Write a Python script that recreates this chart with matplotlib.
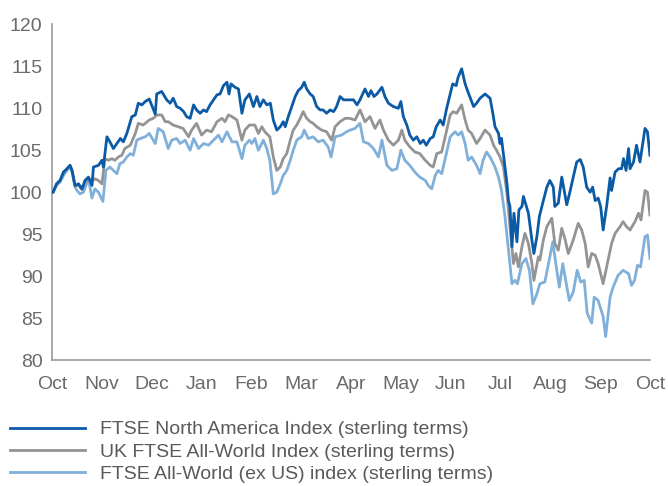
import matplotlib
matplotlib.use("Agg")
import matplotlib.pyplot as plt

# x positions are months since start (0 = Oct, 12 = Oct next year)
month_labels = ["Oct", "Nov", "Dec", "Jan", "Feb", "Mar", "Apr", "May", "Jun", "Jul", "Aug", "Sep", "Oct"]

na_x = [0, 0.02, 0.09, 0.16, 0.23, 0.30, 0.36, 0.40, 0.46, 0.53, 0.60, 0.66, 0.73, 0.80, 0.83, 0.93,
        1.00, 1.03, 1.10, 1.16, 1.23, 1.30, 1.37, 1.43, 1.50, 1.60, 1.67, 1.73, 1.80, 1.87, 1.95,
        2.07, 2.10, 2.20, 2.30, 2.37, 2.43, 2.50, 2.57, 2.64, 2.70, 2.77, 2.84, 2.90, 2.97,
        3.04, 3.10, 3.17, 3.24, 3.31, 3.37, 3.44, 3.51, 3.55, 3.59, 3.67, 3.74, 3.81, 3.87, 3.96,
        4.04, 4.11, 4.17, 4.24, 4.31, 4.38, 4.44, 4.51, 4.58, 4.64, 4.68, 4.74, 4.81, 4.88, 4.94,
        5.01, 5.06, 5.11, 5.18, 5.24, 5.31, 5.38, 5.44, 5.51, 5.58, 5.65, 5.71, 5.78, 5.85, 5.97,
        6.05, 6.12, 6.18, 6.28, 6.35, 6.40, 6.46, 6.52, 6.62, 6.68, 6.75, 6.85, 6.95,
        7.00, 7.05, 7.12, 7.18, 7.25, 7.32, 7.39, 7.45, 7.51, 7.59, 7.65, 7.71, 7.79, 7.85, 7.92, 7.99,
        8.04, 8.11, 8.15, 8.22, 8.29, 8.35, 8.46, 8.52, 8.59, 8.69, 8.79, 8.84, 8.89, 8.96, 8.99,
        9.02, 9.07, 9.13, 9.16, 9.19, 9.23, 9.27, 9.33, 9.37, 9.43, 9.46, 9.51, 9.56, 9.63, 9.67, 9.73, 9.78,
        9.86, 9.93, 9.99, 10.06, 10.09, 10.16, 10.23, 10.30, 10.33, 10.40, 10.46, 10.53, 10.60, 10.66,
        10.73, 10.80, 10.85, 10.90, 10.96, 11.01, 11.06, 11.13, 11.20, 11.23, 11.30, 11.37, 11.43,
        11.47, 11.52, 11.57, 11.60, 11.67, 11.73, 11.80, 11.90, 11.95, 12.0]
na_y = [100.0, 100.0, 101.0, 101.4, 102.4, 102.8, 103.2, 102.6, 100.8, 101.0, 100.4, 101.4, 101.8, 100.8, 103.0, 103.2,
        103.8, 103.0, 106.6, 106.0, 105.2, 105.8, 106.4, 106.0, 107.0, 109.0, 109.2, 110.6, 110.4, 110.8, 111.1,
        109.3, 111.7, 112.0, 111.0, 110.6, 111.2, 110.2, 110.0, 109.6, 109.0, 108.8, 110.4, 109.8, 109.4,
        109.8, 109.6, 110.4, 111.0, 111.6, 111.7, 112.7, 113.1, 111.7, 112.9, 112.5, 112.3, 109.4, 111.0, 111.7,
        110.2, 111.4, 110.2, 111.0, 110.4, 110.6, 108.6, 107.4, 107.8, 108.4, 107.8, 109.0, 110.2, 111.4, 112.1,
        112.5, 113.1, 112.3, 111.7, 111.4, 110.2, 109.8, 109.8, 109.4, 109.8, 109.6, 110.2, 111.4, 111.0, 111.0,
        111.0, 110.4, 111.0, 112.3, 111.4, 112.1, 111.4, 111.7, 112.5, 111.4, 110.6, 110.2, 110.0,
        110.8, 109.0, 108.0, 106.8, 106.2, 106.6, 105.8, 106.2, 105.6, 106.4, 106.6, 107.8, 108.6, 108.0, 110.0, 111.7,
        112.9, 112.7, 113.7, 114.7, 112.9, 111.9, 110.2, 110.6, 111.2, 111.7, 111.2, 109.6, 107.8, 107.0, 105.8,
        106.4, 104.0, 101.0, 99.0, 98.3, 93.5, 97.5, 94.1, 97.9, 98.3, 99.5, 98.5, 97.5, 94.3, 92.7, 94.7, 97.1,
        99.0, 100.6, 101.4, 100.6, 98.3, 98.7, 101.8, 99.5, 98.5, 100.2, 101.8, 103.6, 103.9, 103.0,
        100.6, 100.0, 100.6, 99.0, 99.3, 98.3, 95.5, 98.3, 101.7, 100.2, 102.4, 102.8, 102.8,
        104.0, 102.6, 105.2, 102.8, 103.6, 105.6, 103.6, 107.6, 107.2, 104.4]

uk_x = [0, 0.02, 0.09, 0.16, 0.23, 0.30, 0.36, 0.40, 0.46, 0.53, 0.60, 0.66, 0.73, 0.80, 0.86, 0.93,
        1.00, 1.06, 1.13, 1.20, 1.26, 1.33, 1.40, 1.46, 1.57, 1.67, 1.73, 1.83, 1.95,
        2.03, 2.10, 2.20, 2.27, 2.33, 2.43, 2.53, 2.63, 2.74, 2.80, 2.90,
        3.00, 3.10, 3.20, 3.31, 3.41, 3.47, 3.54, 3.61, 3.71, 3.81, 3.87, 3.96,
        4.07, 4.14, 4.21, 4.27, 4.37, 4.44, 4.51, 4.58, 4.64, 4.71, 4.78, 4.84, 4.91, 4.98,
        5.04, 5.11, 5.18, 5.24, 5.31, 5.41, 5.51, 5.61, 5.68, 5.78, 5.88, 5.97,
        6.08, 6.18, 6.28, 6.38, 6.48, 6.58, 6.65, 6.75, 6.85, 6.95,
        7.02, 7.08, 7.18, 7.28, 7.38, 7.49, 7.59, 7.65, 7.72, 7.82, 7.92, 7.99,
        8.05, 8.12, 8.22, 8.29, 8.35, 8.42, 8.52, 8.59, 8.69, 8.79, 8.86, 8.92, 8.99,
        9.06, 9.13, 9.19, 9.26, 9.31, 9.36, 9.43, 9.49, 9.56, 9.63, 9.67, 9.76, 9.79, 9.86, 9.93,
        10.03, 10.09, 10.16, 10.23, 10.30, 10.36, 10.46, 10.56, 10.63, 10.70, 10.76, 10.83, 10.90, 10.96,
        11.06, 11.16, 11.23, 11.30, 11.40, 11.46, 11.53, 11.60, 11.70, 11.77, 11.82, 11.90, 11.95, 12.0]
uk_y = [100.0, 100.0, 101.0, 101.4, 102.4, 102.8, 103.2, 102.6, 100.8, 100.8, 100.3, 101.2, 101.6, 101.3, 101.6, 101.4,
        101.0, 104.0, 103.8, 104.0, 103.8, 104.2, 104.4, 105.2, 105.6, 107.0, 108.2, 108.0, 108.6,
        108.8, 109.2, 109.2, 108.4, 108.4, 108.0, 107.8, 107.6, 106.6, 107.4, 108.2,
        106.8, 107.4, 107.2, 108.4, 108.8, 108.4, 109.2, 109.0, 108.6, 106.2, 107.4, 108.0,
        108.0, 107.0, 107.8, 107.2, 106.6, 104.2, 102.6, 103.0, 104.0, 104.6, 106.2, 107.4, 108.0, 108.8,
        109.6, 108.8, 108.4, 108.2, 107.8, 107.4, 107.2, 106.2, 107.8, 108.4, 108.8, 108.8,
        108.6, 109.8, 108.4, 109.0, 107.6, 108.6, 107.4, 106.2, 105.6, 106.2,
        107.4, 106.2, 105.4, 104.8, 104.6, 103.8, 103.2, 103.0, 104.6, 104.8, 107.4, 109.2,
        109.6, 109.4, 110.4, 108.6, 107.4, 107.0, 105.8, 106.4, 107.4, 106.8, 105.6, 105.0, 104.2,
        103.0, 99.8, 95.9, 91.5, 92.7, 91.1, 93.5, 95.1, 93.9, 91.5, 89.5, 92.3, 91.9, 94.3, 95.9,
        96.9, 93.9, 93.1, 95.7, 94.3, 92.7, 94.3, 96.3, 95.5, 93.9, 91.1, 92.7, 92.5, 91.5,
        89.1, 91.9, 93.9, 95.1, 95.9, 96.5, 95.9, 95.5, 96.5, 97.5, 96.7, 100.2, 100.0, 97.3]

exus_x = [0, 0.02, 0.09, 0.16, 0.23, 0.30, 0.36, 0.40, 0.46, 0.50, 0.56, 0.63, 0.73, 0.80, 0.86, 0.93,
          1.02, 1.08, 1.16, 1.23, 1.30, 1.36, 1.43, 1.50, 1.57, 1.63, 1.70, 1.77, 1.87, 1.95,
          2.07, 2.13, 2.23, 2.33, 2.40, 2.50, 2.57, 2.67, 2.77, 2.84, 2.94,
          3.04, 3.14, 3.24, 3.34, 3.41, 3.51, 3.61, 3.71, 3.81, 3.87, 3.96,
          4.01, 4.07, 4.14, 4.24, 4.31, 4.37, 4.44, 4.51, 4.58, 4.64, 4.71, 4.78, 4.84, 4.91,
          5.01, 5.06, 5.14, 5.24, 5.34, 5.44, 5.54, 5.60, 5.68, 5.81, 5.91, 5.98,
          6.08, 6.18, 6.25, 6.35, 6.45, 6.55, 6.62, 6.72, 6.82, 6.92,
          7.00, 7.08, 7.18, 7.28, 7.38, 7.49, 7.55, 7.62, 7.69, 7.75, 7.82, 7.92, 7.99,
          8.09, 8.15, 8.22, 8.29, 8.35, 8.42, 8.52, 8.59, 8.65, 8.72, 8.79, 8.89, 8.96,
          9.02, 9.09, 9.16, 9.23, 9.29, 9.34, 9.43, 9.51, 9.58, 9.65, 9.73, 9.79, 9.89, 9.99,
          10.05, 10.11, 10.18, 10.25, 10.31, 10.38, 10.46, 10.54, 10.61, 10.68, 10.74, 10.83, 10.88, 10.96,
          11.06, 11.11, 11.20, 11.26, 11.36, 11.46, 11.57, 11.63, 11.69, 11.75, 11.81, 11.90, 11.95, 12.0]
exus_y = [100.0, 100.0, 100.8, 101.2, 102.0, 102.6, 103.0, 102.4, 100.6, 100.2, 99.8, 100.0, 101.6, 99.3, 100.4, 100.0,
          98.9, 102.6, 103.0, 102.6, 102.2, 103.4, 103.6, 104.2, 104.6, 104.4, 106.2, 106.4, 106.6, 107.0,
          105.8, 107.6, 107.2, 105.2, 106.2, 106.4, 105.8, 106.2, 105.0, 106.4, 105.2,
          105.8, 105.6, 106.2, 106.8, 106.0, 107.2, 106.0, 106.0, 104.0, 105.6, 106.2,
          105.8, 106.4, 105.0, 106.2, 105.2, 103.8, 99.8, 100.0, 101.0, 102.0, 102.6, 103.8, 105.0, 106.2,
          106.6, 107.4, 106.4, 106.6, 106.0, 106.2, 105.4, 104.2, 106.6, 106.8, 107.2, 107.4,
          107.6, 108.2, 106.0, 105.8, 105.2, 104.2, 106.2, 103.2, 102.6, 102.8,
          105.0, 103.8, 103.2, 102.4, 101.8, 101.4, 100.8, 100.4, 102.0, 102.6, 102.2, 104.8, 106.6,
          107.2, 106.8, 107.2, 105.8, 103.8, 104.2, 103.2, 102.2, 103.8, 104.8, 104.2, 103.0, 101.8,
          100.2, 97.1, 93.1, 89.1, 89.5, 89.1, 91.5, 92.1, 90.7, 86.7, 87.9, 89.1, 89.3, 92.3,
          94.1, 91.5, 88.7, 91.5, 89.5, 87.1, 88.1, 90.7, 89.3, 89.5, 85.6, 84.4, 87.5, 87.1,
          85.2, 82.8, 87.5, 88.7, 90.1, 90.7, 90.3, 88.9, 89.5, 91.3, 91.1, 94.7, 94.9, 92.1]

series_names = ["FTSE North America Index (sterling terms)",
                "UK FTSE All-World Index (sterling terms)",
                "FTSE All-World (ex US) index (sterling terms)"]

plt.rcParams['font.family'] = ['Liberation Sans', 'DejaVu Sans']

fig = plt.figure(figsize=(6.68, 4.86), dpi=100)
ax = fig.add_axes([0.078, 0.259, 0.895, 0.691])

ax.plot(na_x, na_y, color="#0b5aa6", lw=2.0, label=series_names[0], zorder=3)
ax.plot(uk_x, uk_y, color="#949494", lw=2.0, label=series_names[1], zorder=2)
ax.plot(exus_x, exus_y, color="#80b0da", lw=2.0, label=series_names[2], zorder=1)

ax.set_xlim(0, 12)
ax.set_ylim(80, 120)
ax.set_xticks(range(13))
ax.set_xticklabels(month_labels)
ax.set_yticks(range(80, 121, 5))
ax.tick_params(length=0, labelsize=14, labelcolor="#6a6a6a")
ax.tick_params(axis='x', pad=11.5)
ax.tick_params(axis='y', pad=7)

for s in ["top", "right"]:
    ax.spines[s].set_visible(False)
for s in ["left", "bottom"]:
    ax.spines[s].set_color("#9a9a9a")
    ax.spines[s].set_linewidth(1.2)

handles, labels = ax.get_legend_handles_labels()
fig.legend(handles, labels, loc="upper left", bbox_to_anchor=(0.015, 0.134),
           frameon=False, fontsize=14, handlelength=3.86, handletextpad=0.77,
           labelspacing=0.24, borderpad=0, borderaxespad=0, labelcolor="#5a5a5a")

fig.savefig("out.png", dpi=100)
